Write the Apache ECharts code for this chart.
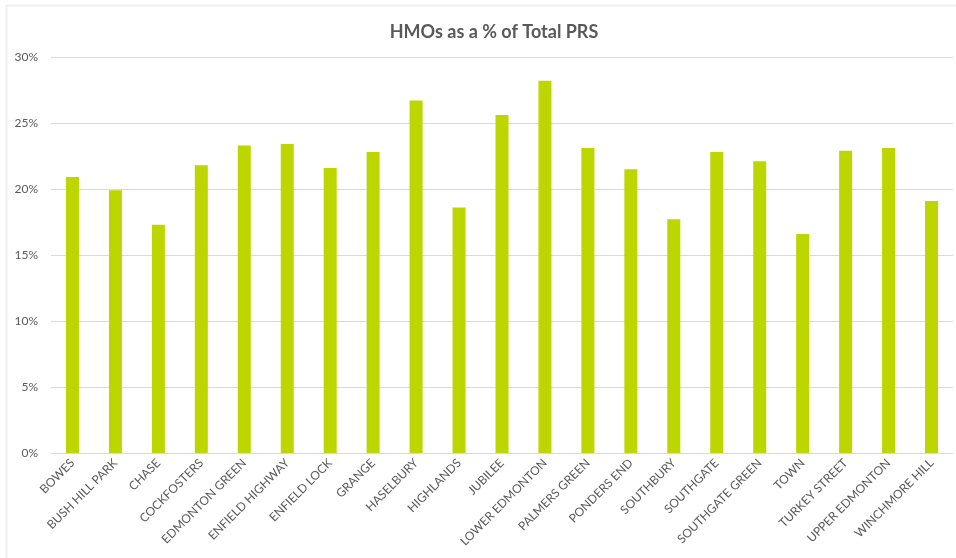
<!DOCTYPE html>
<html>
<head>
<meta charset="utf-8">
<script src="https://cdn.jsdelivr.net/npm/echarts@6/dist/echarts.min.js"></script>
<style>
  html, body { margin: 0; padding: 0; background: #fff; }
  #chart { width: 956px; height: 558px; }
</style>
</head>
<body>
<div id="chart"></div>
<script>
// wards and share of HMOs in the private rented sector (%)
const wards = ['BOWES', 'BUSH HILL PARK', 'CHASE', 'COCKFOSTERS', 'EDMONTON GREEN', 'ENFIELD HIGHWAY',
  'ENFIELD LOCK', 'GRANGE', 'HASELBURY', 'HIGHLANDS', 'JUBILEE', 'LOWER EDMONTON', 'PALMERS GREEN',
  'PONDERS END', 'SOUTHBURY', 'SOUTHGATE', 'SOUTHGATE GREEN', 'TOWN', 'TURKEY STREET',
  'UPPER EDMONTON', 'WINCHMORE HILL'];
const hmoShare = [20.9, 19.9, 17.3, 21.8, 23.3, 23.4, 21.6, 22.8, 26.7, 18.6, 25.6, 28.2, 23.1,
  21.5, 17.7, 22.8, 22.1, 16.6, 22.9, 23.1, 19.1];
const yTicks = [0, 5, 10, 15, 20, 25, 30];

const font = 'Lato, "Open Sans", sans-serif';
const chart = echarts.init(document.getElementById('chart'));

chart.setOption({
  animation: false,
  backgroundColor: '#fff',
  graphic: [
    // light frame of the chart area
    { type: 'line', shape: { x1: 6.5, y1: 5.5, x2: 956, y2: 5.5 }, style: { stroke: '#efefef', lineWidth: 2 } },
    { type: 'line', shape: { x1: 6.5, y1: 5.5, x2: 6.5, y2: 558 }, style: { stroke: '#efefef', lineWidth: 2 } }
  ],
  title: {
    text: 'HMOs as a % of Total PRS',
    left: 489,
    top: 18,
    textAlign: 'center',
    textStyle: { fontFamily: font, fontSize: 18, fontWeight: 'bold', color: '#595959' }
  },
  grid: { left: 51, right: 3, top: 57, bottom: 105, containLabel: false },
  xAxis: {
    type: 'category',
    data: wards,
    axisLine: { lineStyle: { color: '#d9d9d9', width: 1 } },
    axisTick: { show: false },
    axisLabel: {
      rotate: 45,
      interval: 0,
      margin: 8,
      fontFamily: font,
      fontSize: 12,
      color: '#595959'
    }
  },
  yAxis: {
    type: 'value',
    min: yTicks[0],
    max: yTicks[yTicks.length - 1],
    interval: 5,
    axisLine: { show: false },
    axisTick: { show: false },
    splitLine: { lineStyle: { color: '#d9d9d9', width: 1 } },
    axisLabel: {
      formatter: '{value}%',
      margin: 13,
      fontFamily: font,
      fontSize: 12,
      color: '#595959'
    }
  },
  series: [{
    type: 'bar',
    data: hmoShare,
    barWidth: 13,
    itemStyle: { color: '#bed600' }
  }]
});
</script>
</body>
</html>
